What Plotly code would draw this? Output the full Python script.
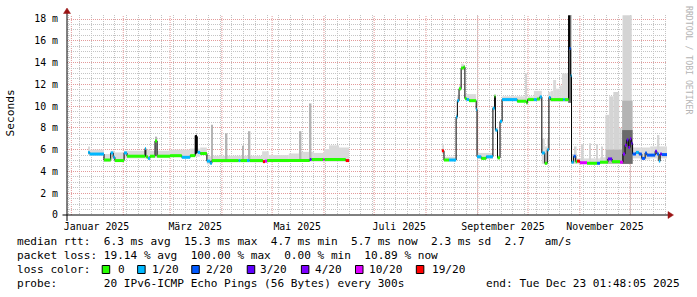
import pandas as pd
import plotly.graph_objects as go

# ---------------- data ----------------
X_RANGE = ["2024-12-29 09:00", "2025-12-23 01:48"]
Y_MAX = 18.37

month_label_dates = ["2025-01-16", "2025-03-16", "2025-05-16", "2025-07-16", "2025-09-16", "2025-11-16"]
month_labels = ["Januar 2025", "März 2025", "Mai 2025", "Juli 2025", "September 2025", "November 2025"]
month_starts = [f"2025-{m:02d}-01" for m in range(1, 13)]

y_ticks = [0, 2, 4, 6, 8, 10, 12, 14, 16, 18]
y_tick_labels = ["0", "2 m", "4 m", "6 m", "8 m", "10 m", "12 m", "14 m", "16 m", "18 m"]

loss_names = ["0", "1/20", "2/20", "3/20", "4/20", "10/20", "19/20"]
loss_colors = ["#26ff00", "#00b8ff", "#0059ff", "#5e00ff", "#7e00ff", "#dd00ff", "#ff0000"]

# median rtt (ms) as steps; loss = index into loss_names for the step that starts at that point
median_dates = [
    "2025-01-11 00:00", "2025-01-12 00:00", "2025-01-20 12:00", "2025-01-24 12:00", "2025-01-26 00:00",
    "2025-01-27 00:00", "2025-02-01 12:00", "2025-02-03 06:00", "2025-02-14 00:00", "2025-02-14 12:00",
    "2025-02-15 18:00", "2025-02-17 00:00", "2025-02-20 00:00", "2025-02-21 06:00", "2025-03-01 00:00",
    "2025-03-08 00:00", "2025-03-13 00:00", "2025-03-16 00:00", "2025-03-16 06:00", "2025-03-16 12:00",
    "2025-03-16 18:00", "2025-03-17 00:00", "2025-03-17 06:00", "2025-03-17 12:00", "2025-03-19 00:00",
    "2025-03-23 00:00", "2025-03-25 00:00", "2025-03-26 00:00", "2025-04-11 00:00", "2025-04-12 00:00",
    "2025-04-16 00:00", "2025-04-17 12:00", "2025-04-25 12:00", "2025-04-26 18:00", "2025-04-28 00:00",
    "2025-05-23 12:00", "2025-05-24 12:00", "2025-05-31 12:00", "2025-06-01 06:00", "2025-06-14 00:00",
    "2025-06-16 00:00",
    None,
    "2025-08-10 12:00", "2025-08-11 18:00", "2025-08-14 18:00", "2025-08-19 00:00", "2025-08-19 18:00",
    "2025-08-20 18:00", "2025-08-22 00:00", "2025-08-23 12:00", "2025-08-24 06:00", "2025-08-25 06:00",
    "2025-08-26 18:00", "2025-08-31 00:00", "2025-08-31 12:00", "2025-09-03 00:00", "2025-09-06 00:00",
    "2025-09-10 00:00", "2025-09-11 00:00", "2025-09-11 12:00", "2025-09-12 18:00", "2025-09-14 06:00",
    "2025-09-15 12:00", "2025-09-24 12:00", "2025-09-30 00:00", "2025-09-30 18:00", "2025-10-04 12:00",
    "2025-10-06 06:00", "2025-10-08 00:00", "2025-10-09 06:00", "2025-10-11 00:00", "2025-10-12 12:00",
    "2025-10-13 12:00", "2025-10-14 12:00", "2025-10-22 00:00", "2025-10-23 00:00", "2025-10-25 06:00",
    "2025-10-25 18:00", "2025-10-26 12:00", "2025-10-27 00:00", "2025-10-28 06:00", "2025-10-29 12:00",
    "2025-10-30 06:00", "2025-11-01 00:00", "2025-11-05 06:00", "2025-11-11 06:00", "2025-11-13 00:00",
    "2025-11-17 18:00", "2025-11-20 06:00", "2025-11-25 00:00", "2025-11-26 18:00", "2025-11-28 00:00",
    "2025-11-29 00:00", "2025-11-30 00:00", "2025-12-01 00:00", "2025-12-01 18:00", "2025-12-02 12:00",
    "2025-12-04 12:00", "2025-12-06 06:00", "2025-12-08 00:00", "2025-12-10 00:00", "2025-12-11 00:00",
    "2025-12-16 00:00", "2025-12-17 00:00", "2025-12-18 06:00", "2025-12-19 00:00", "2025-12-20 00:00",
    "2025-12-23 01:48",
]
median_ms = [
    5.75, 5.6, 5.05, 5.7, 5.3,
    5.0, 5.7, 5.4, 6.1, 5.35,
    5.2, 5.4, 6.8, 5.4, 5.45,
    5.3, 5.45, 7.3, 5.6, 7.35,
    5.7, 7.2, 5.8, 5.75, 5.65,
    4.95, 4.75, 5.0, 5.0, 5.0,
    5.0, 5.0, 4.9, 4.95, 5.0,
    5.1, 5.1, 5.1, 5.1, 5.0,
    5.0,
    None,
    5.9, 5.05, 5.05, 9.0, 10.5,
    11.6, 13.5, 13.6, 10.7, 10.6,
    10.5, 9.7, 5.35, 5.2, 5.35,
    9.8, 10.9, 7.8, 5.25, 8.6,
    10.6, 10.45, 10.3, 10.6, 10.6,
    10.65, 10.85, 5.7, 4.75, 6.0,
    10.8, 10.6, 10.6, 10.6, 18.3,
    15.3, 12.8, 4.85, 5.4, 4.9,
    4.95, 4.8, 4.75, 4.75, 4.85,
    5.15, 4.9, 4.85, 5.6, 6.4,
    6.9, 6.2, 7.0, 6.6, 5.6,
    5.75, 5.6, 5.2, 5.7, 5.5,
    5.85, 5.6, 4.95, 5.6, 5.55,
    5.55,
]
median_loss = [
    1, 1, 0, 1, 1,
    0, 1, 0, 1, 0,
    1, 0, 0, 0, 0,
    1, 0, None, None, None,
    None, None, None, 1, 0,
    1, 1, 0, 1, 0,
    1, 0, 6, 5, 0,
    3, 0, 5, 0, 6,
    None,
    None,
    6, 0, 1, 1, 1,
    0, 0, 0, 0, 1,
    0, 1, 1, 0, 1,
    1, 0, 1, 0, 1,
    1, 0, 0, 0, 1,
    0, 1, 1, 0, 1,
    1, 0, 1, 0, None,
    2, 1, 1, 2, 0,
    6, 5, 0, 2, 0,
    3, 0, 5, 4, 4,
    3, 4, 4, 3, 2,
    1, 2, 2, 2, 2,
    3, 2, 1, 3, 2,
    None,
]

# smoke band (light grey), steps: from each date to the next one
smoke_dates = [
    "2025-01-11 00:00", "2025-01-12 00:00", "2025-01-20 12:00", "2025-01-24 12:00", "2025-01-27 00:00",
    "2025-02-01 12:00", "2025-02-14 00:00", "2025-02-17 00:00", "2025-03-01 00:00", "2025-03-13 00:00",
    "2025-03-19 00:00", "2025-03-23 00:00", "2025-03-26 00:00", "2025-04-25 00:00", "2025-04-29 00:00",
    "2025-05-11 00:00", "2025-05-17 00:00", "2025-05-26 00:00", "2025-06-01 00:00", "2025-06-04 00:00",
    "2025-06-10 00:00", "2025-06-16 00:00",
    None,
    "2025-08-10 12:00", "2025-08-11 18:00", "2025-08-19 00:00", "2025-08-19 18:00", "2025-08-20 18:00",
    "2025-08-22 00:00", "2025-08-23 12:00", "2025-08-24 06:00", "2025-08-31 00:00", "2025-08-31 12:00",
    "2025-09-10 00:00", "2025-09-11 00:00", "2025-09-11 12:00", "2025-09-12 18:00", "2025-09-14 06:00",
    "2025-09-15 12:00", "2025-09-30 00:00", "2025-09-30 18:00", "2025-10-04 12:00", "2025-10-09 06:00",
    "2025-10-11 00:00", "2025-10-12 12:00", "2025-10-13 12:00", "2025-10-14 12:00", "2025-10-16 00:00",
    "2025-10-17 18:00", "2025-10-20 00:00", "2025-10-21 06:00", "2025-10-25 00:00", "2025-10-27 06:00",
    "2025-10-30 06:00", "2025-11-13 00:00", "2025-11-17 18:00", "2025-11-26 18:00", "2025-12-02 12:00",
    "2025-12-07 00:00", "2025-12-13 00:00", "2025-12-23 01:48",
]
smoke_lo = [
    5.5, 5.45, 4.9, 5.1, 4.9,
    5.2, 5.2, 5.25, 5.3, 5.35,
    5.5, 4.65, 4.85, 4.8, 4.85,
    4.9, 4.9, 4.9, 4.9, 4.9,
    4.9, None,
    None,
    5.6, 4.95, 8.8, 10.3, 11.4,
    13.3, 13.3, 10.5, 9.5, 5.15,
    9.6, 10.7, 7.6, 5.1, 8.4,
    10.45, 10.15, 10.45, 10.45, 4.7,
    4.65, 5.0, 10.5, 10.4, 10.4,
    10.4, 10.4, 10.4, 10.3, 4.7,
    4.7, 4.7, 4.7, 4.7, 5.2,
    5.1, 5.2, None,
]
smoke_hi = [
    6.3, 6.0, 5.6, 5.9, 5.75,
    5.9, 6.0, 5.9, 6.0, 6.1,
    6.2, 5.4, 5.45, 5.85, 5.5,
    5.65, 5.8, 5.7, 6.05, 6.4,
    6.2, None,
    None,
    6.5, 5.35, 9.3, 10.9, 11.9,
    13.9, 13.8, 11.1, 10.0, 5.7,
    10.0, 11.1, 8.0, 5.5, 8.8,
    10.9, 10.7, 10.9, 11.4, 7.0,
    6.3, 7.0, 11.3, 11.4, 12.4,
    11.6, 11.9, 13.0, 18.35, 5.6,
    5.2, 5.3, 5.8, 6.9, 6.2,
    6.2, 6.3, None,
]

# isolated smoke spikes: (start, end, low ms, high ms)
light_spike_start = ["2025-09-29 06:00", "2025-10-29 00:00", "2025-11-02 06:00", "2025-11-06 12:00",
                     "2025-11-10 18:00", "2025-11-13 18:00", "2025-11-16 06:00", "2025-11-18 12:00",
                     "2025-11-21 00:00", "2025-11-24 12:00", "2025-11-26 12:00", "2025-12-17 12:00"]
light_spike_end = ["2025-09-30 06:00", "2025-10-30 00:00", "2025-11-03 06:00", "2025-11-07 12:00",
                   "2025-11-11 18:00", "2025-11-14 18:00", "2025-11-18 12:00", "2025-11-21 00:00",
                   "2025-11-24 12:00", "2025-11-26 00:00", "2025-12-02 00:00", "2025-12-18 12:00"]
light_spike_lo = [10.6, 4.8, 4.8, 4.8, 4.8, 4.8, 4.8, 4.8, 4.8, 4.8, 4.7, 5.0]
light_spike_hi = [13.0, 6.3, 6.5, 6.6, 6.5, 6.3, 9.2, 10.9, 11.3, 8.0, 18.35, 7.35]

mid_spike_start = ["2025-02-20 06:00", "2025-03-25 12:00", "2025-04-03 06:00", "2025-04-13 00:00",
                   "2025-04-17 00:00", "2025-05-17 12:00", "2025-05-23 12:00", "2025-11-26 06:00",
                   "2025-11-16 12:00"]
mid_spike_end = ["2025-02-21 06:00", "2025-03-26 12:00", "2025-04-04 06:00", "2025-04-14 00:00",
                 "2025-04-18 00:00", "2025-05-18 12:00", "2025-05-24 12:00", "2025-12-02 12:00",
                 "2025-11-26 06:00"]
mid_spike_lo = [5.4, 5.0, 5.0, 5.0, 5.0, 5.0, 5.1, 4.7, 4.7]
mid_spike_hi = [7.2, 8.3, 7.5, 6.35, 7.7, 7.7, 10.25, 10.5, 6.0]

dark_spike_start = ["2025-10-25 00:00", "2025-11-26 06:00"]
dark_spike_end = ["2025-10-26 18:00", "2025-12-02 12:00"]
dark_spike_lo = [10.3, 4.7]
dark_spike_hi = [18.35, 7.8]

legend_line_rtt = "median rtt:  6.3 ms avg  15.3 ms max  4.7 ms min  5.7 ms now  2.3 ms sd  2.7   am/s"
legend_line_loss = "packet loss: 19.14 % avg  100.00 % max  0.00 % min  10.89 % now"
legend_line_probe = "probe:       20 IPv6-ICMP Echo Pings (56 Bytes) every 300s"
legend_end = "end: Tue Dec 23 01:48:05 2025"

# ---------------- layout helpers ----------------
W, H = 697, 297
L, R, T, B = 67, 30, 15, 82
PW, PH = W - L - R, H - T - B


def px(xp):
    return (xp - L) / PW


def py(yp):
    return (T + PH - yp) / PH


def nb(s):
    return s.replace(" ", "\u00a0")


MONO = "DejaVu Sans Mono"
FS = 11.1          # legend font size (px)
CW = FS * 0.6021   # monospace advance
X0 = 16            # legend left edge

fig = go.Figure()


def interval_bar(starts, ends, lo, hi, color):
    s = pd.to_datetime(pd.Series(starts))
    e = pd.to_datetime(pd.Series(ends))
    mid = s + (e - s) / 2
    width = ((e - s) / pd.Timedelta(milliseconds=1)).tolist()
    return go.Bar(x=mid, y=[h - l for h, l in zip(hi, lo)], base=lo, width=width,
                  marker=dict(color=color, line=dict(width=0)), hoverinfo="skip", showlegend=False)


sb_s, sb_e, sb_lo, sb_hi = [], [], [], []
for i in range(len(smoke_dates) - 1):
    if smoke_dates[i] is None or smoke_dates[i + 1] is None or smoke_lo[i] is None:
        continue
    sb_s.append(smoke_dates[i]); sb_e.append(smoke_dates[i + 1])
    sb_lo.append(smoke_lo[i]); sb_hi.append(smoke_hi[i])

fig.add_trace(interval_bar(sb_s, sb_e, sb_lo, sb_hi, "#dadada"))
fig.add_trace(interval_bar(light_spike_start, light_spike_end, light_spike_lo, light_spike_hi, "#d4d4d4"))
fig.add_trace(interval_bar(mid_spike_start, mid_spike_end, mid_spike_lo, mid_spike_hi, "#b4b4b4"))
fig.add_trace(interval_bar(dark_spike_start, dark_spike_end, dark_spike_lo, dark_spike_hi, "#6a6a6a"))

fig.add_trace(go.Scatter(x=median_dates, y=median_ms, mode="lines", line=dict(color="#000000", width=1, shape="hv"),
                         connectgaps=False, hoverinfo="skip", showlegend=False))

for k, col in enumerate(loss_colors):
    xs, ys = [], []
    for i in range(len(median_dates) - 1):
        if median_loss[i] != k or median_dates[i] is None or median_dates[i + 1] is None:
            continue
        xs += [median_dates[i], median_dates[i + 1], None]
        ys += [median_ms[i], median_ms[i], None]
    if xs:
        fig.add_trace(go.Scatter(x=xs, y=ys, mode="lines", line=dict(color=col, width=3),
                                 hoverinfo="skip", showlegend=False))

shapes = []
for d in month_starts:
    shapes.append(dict(type="line", xref="x", yref="paper", x0=d, x1=d, y0=0, y1=1, layer="between",
                       line=dict(color="#e39a9a", width=1, dash="1px,1px")))
shapes.append(dict(type="line", xref="paper", yref="paper", x0=px(62.5), x1=px(670), y0=0, y1=0,
                   line=dict(color="#000000", width=1), layer="above"))
shapes.append(dict(type="line", xref="paper", yref="paper", x0=0, x1=0, y0=py(221), y1=py(10),
                   line=dict(color="#000000", width=1), layer="above"))
shapes.append(dict(type="path", xref="paper", yref="paper", layer="above",
                   path=f"M {px(668)},{py(211.5)} L {px(673.5)},{py(215)} L {px(668)},{py(218.5)} Z",
                   fillcolor="#9a1414", line=dict(color="#9a1414", width=0.5)))
shapes.append(dict(type="path", xref="paper", yref="paper", layer="above",
                   path=f"M {px(63.5)},{py(13.5)} L {px(67)},{py(8)} L {px(70.5)},{py(13.5)} Z",
                   fillcolor="#9a1414", line=dict(color="#9a1414", width=0.5)))

annotations = []
row_y = [241.5, 255.5, 269.5, 283.5]


def text_at(t, xp, yp, anchor="left"):
    annotations.append(dict(text=nb(t), x=px(xp), y=py(yp), xref="paper", yref="paper", showarrow=False,
                            xanchor=anchor, yanchor="middle", borderpad=0,
                            font=dict(family=MONO, size=FS, color="#000000")))


text_at(legend_line_rtt, X0, row_y[0])
text_at(legend_line_loss, X0, row_y[1])
text_at("loss color:", X0, row_y[2])
box_cols = [12.9, 18.2, 26.3, 34.6, 42.7, 50.8, 59.9]
label_cols = [15.1, 20.2, 28.3, 36.4, 44.6, 52.7, 62.1]
for bc, lc, name, col in zip(box_cols, label_cols, loss_names, loss_colors):
    bx = X0 + bc * CW
    shapes.append(dict(type="rect", xref="paper", yref="paper", x0=px(bx), x1=px(bx + 7.5),
                       y0=py(273.5), y1=py(265.5), fillcolor=col, line=dict(color="#000000", width=1),
                       layer="above"))
    text_at(name, X0 + lc * CW, row_y[2])
text_at(legend_line_probe, X0, row_y[3])
text_at(legend_end, 681, row_y[3], anchor="right")

annotations.append(dict(text="Seconds", x=px(10), y=py(113.5), xref="paper", yref="paper", showarrow=False,
                        textangle=-90, xanchor="center", yanchor="middle",
                        font=dict(family=MONO, size=11.2, color="#000000")))
annotations.append(dict(text="RRDTOOL / TOBI OETIKER", x=px(689), y=py(60), xref="paper", yref="paper",
                        showarrow=False, textangle=90, xanchor="center", yanchor="middle",
                        font=dict(family=MONO, size=8.2, color="#b4b4b4")))

fig.update_layout(
    width=W, height=H, margin=dict(l=L, r=R, t=T, b=B, pad=0),
    paper_bgcolor="#ffffff", plot_bgcolor="#ffffff",
    barmode="overlay", showlegend=False,
    xaxis=dict(type="date", range=X_RANGE, tickmode="array", tickvals=month_label_dates, ticktext=month_labels,
               showgrid=False, zeroline=False, showline=False, ticks="outside", ticklen=2,
               tickcolor="rgba(0,0,0,0)", tickfont=dict(family=MONO, size=9.9, color="#000000"),
               minor=dict(tickmode="linear", tick0="2024-12-30", dtick=7 * 86400000, showgrid=True,
                          gridcolor="#c4c4c4", griddash="1px,1px", gridwidth=1, ticks="")),
    yaxis=dict(range=[0, Y_MAX], tickmode="array", tickvals=y_ticks, ticktext=y_tick_labels,
               showgrid=True, gridcolor="#e39a9a", griddash="1px,1px", gridwidth=1, zeroline=False,
               showline=False, ticks="outside", ticklen=6, tickcolor="rgba(0,0,0,0)",
               tickfont=dict(family=MONO, size=9.9, color="#000000"),
               minor=dict(tickmode="linear", tick0=0, dtick=0.5, showgrid=True, gridcolor="#c4c4c4",
                          griddash="1px,1px", gridwidth=1, ticks="")),
    shapes=shapes, annotations=annotations,
)

fig.write_html("out.html")
